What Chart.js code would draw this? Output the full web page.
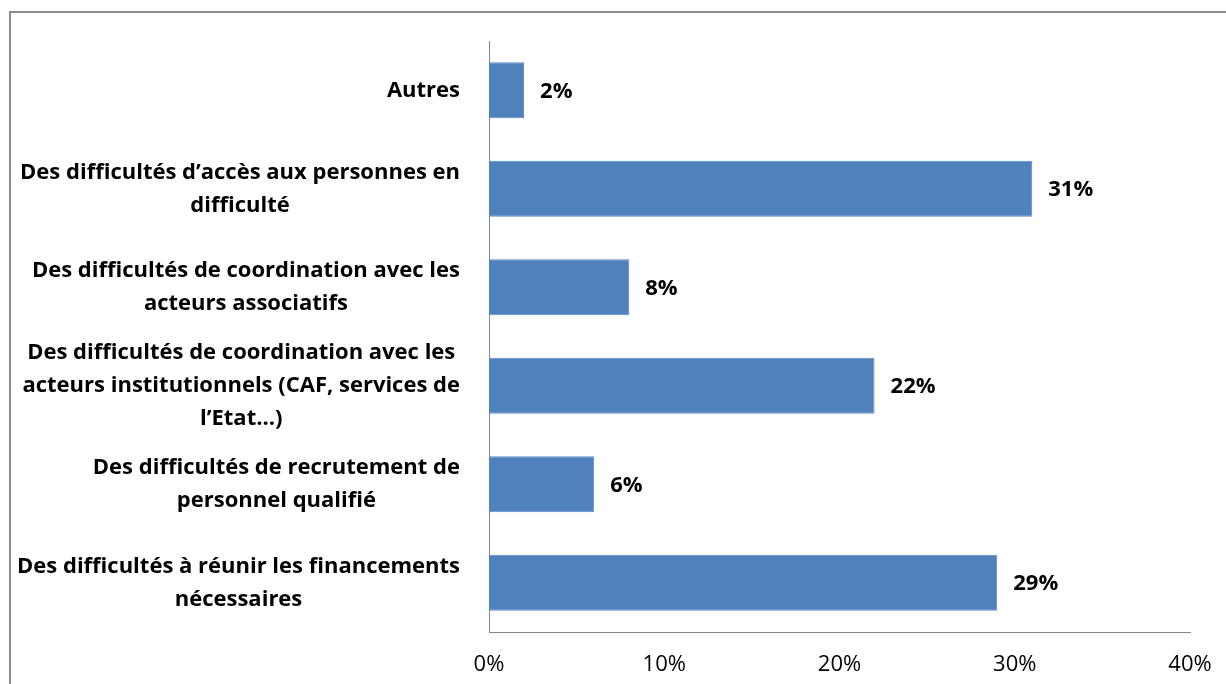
<!DOCTYPE html>
<html>
<head>
<meta charset="utf-8">
<script src="https://cdn.jsdelivr.net/npm/chart.js@4.4.1/dist/chart.umd.min.js"></script>
<style>
    body { margin: 0; background: #fff; overflow: hidden; }
    #wrap { position: relative; width: 1226px; height: 684px; }
    #frame { position: absolute; left: 9px; top: 11px; width: 1300px; height: 800px; border-left: 2px solid #8c8c8c; border-top: 2px solid #8c8c8c; }
    canvas { position: absolute; left: 0; top: 0; }
</style>
</head>
<body>
<div id="wrap">
    <div id="frame"></div>
    <canvas id="chart" width="1226" height="684"></canvas>
</div>
<script>
// Données du graphique (de haut en bas)
const categories = [
    'Autres',
    ['Des difficultés d\u2019accès aux personnes en', 'difficulté'],
    ['Des difficultés de coordination avec les', 'acteurs associatifs'],
    ['Des difficultés de coordination avec les', 'acteurs institutionnels (CAF, services de', 'l\u2019Etat\u2026)'],
    ['Des difficultés de recrutement de', 'personnel qualifié'],
    ['Des difficultés à réunir les financements', 'nécessaires']
];
const values = [2, 31, 8, 22, 6, 29];
const xTicks = [0, 10, 20, 30, 40];

const fontFamily = '"Open Sans", sans-serif';
const lineGap = 33;

// Libellés des catégories : chaque bloc centré sur lui-même, aligné à droite
const categoryLabels = {
    id: 'categoryLabels',
    afterDraw(chart) {
        const ctx = chart.ctx;
        const scale = chart.scales.y;
        const right = scale.right - 29;
        ctx.save();
        ctx.font = 'bold 22px ' + fontFamily;
        ctx.fillStyle = '#000';
        ctx.textAlign = 'center';
        ctx.textBaseline = 'middle';
        scale.ticks.forEach((tick, i) => {
            const lines = [].concat(chart.data.labels[i]);
            const widest = Math.max(...lines.map(l => ctx.measureText(l).width));
            const cx = right - widest / 2;
            const cy = scale.getPixelForTick(i);
            lines.forEach((line, j) => {
                ctx.fillText(line, cx, cy + (j - (lines.length - 1) / 2) * lineGap);
            });
        });
        ctx.restore();
    }
};

// Étiquettes de valeur à droite des barres
const valueLabels = {
    id: 'valueLabels',
    afterDatasetsDraw(chart) {
        const ctx = chart.ctx;
        const meta = chart.getDatasetMeta(0);
        ctx.save();
        ctx.font = 'bold 22px ' + fontFamily;
        ctx.fillStyle = '#000';
        ctx.textAlign = 'left';
        ctx.textBaseline = 'middle';
        meta.data.forEach((bar, i) => {
            ctx.fillText(values[i] + '%', bar.x + 16, bar.y + 1);
        });
        ctx.restore();
    }
};

const ctx = document.getElementById('chart').getContext('2d');
new Chart(ctx, {
    type: 'bar',
    data: {
        labels: categories,
        datasets: [{
            data: values,
            backgroundColor: '#4f81bd',
            borderColor: '#5b8cc6',
            borderWidth: 1,
            barPercentage: 0.57,
            categoryPercentage: 1
        }]
    },
    options: {
        indexAxis: 'y',
        responsive: false,
        animation: false,
        layout: {
            padding: { top: 41, right: 36, bottom: 0, left: 0 }
        },
        plugins: {
            legend: { display: false },
            tooltip: { enabled: false }
        },
        scales: {
            x: {
                min: xTicks[0],
                max: xTicks[xTicks.length - 1],
                afterBuildTicks: (scale) => {
                    scale.ticks = xTicks.map(v => ({ value: v }));
                },
                afterFit: (scale) => {
                    scale.height = 52;
                    scale.paddingLeft = 0;
                    scale.paddingRight = 0;
                },
                grid: { display: false, drawTicks: false },
                border: { display: true, color: '#868686', width: 1 },
                ticks: {
                    padding: 20,
                    maxRotation: 0,
                    color: '#000',
                    font: { family: fontFamily, size: 22 },
                    callback: (v) => v + '%'
                }
            },
            y: {
                afterFit: (scale) => {
                    scale.width = 489;
                    scale.paddingTop = 0;
                    scale.paddingBottom = 0;
                },
                grid: { display: false, drawTicks: false },
                border: { display: true, color: '#868686', width: 1 },
                ticks: {
                    display: false,
                    autoSkip: false
                }
            }
        }
    },
    plugins: [valueLabels, categoryLabels]
});
</script>
</body>
</html>
